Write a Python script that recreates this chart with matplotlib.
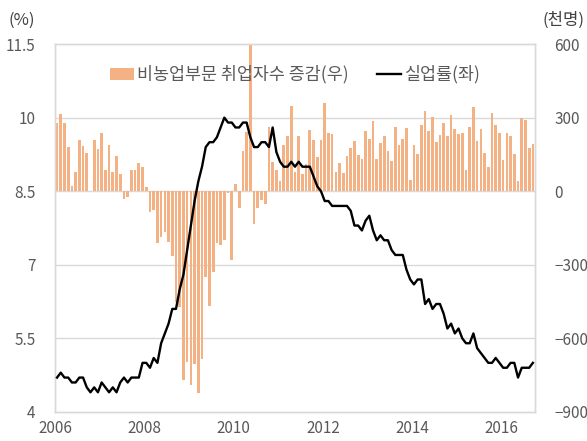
import numpy as np
import matplotlib
matplotlib.use("Agg")
import matplotlib.pyplot as plt
from matplotlib.lines import Line2D
from matplotlib.patches import Patch

plt.rcParams['font.family'] = ['Noto Sans CJK KR', 'DejaVu Sans']

# monthly data, Jan 2006 - Sep 2016
unemp = [
    4.7, 4.8, 4.7, 4.7, 4.6, 4.6, 4.7, 4.7, 4.5, 4.4, 4.5, 4.4,   # 2006
    4.6, 4.5, 4.4, 4.5, 4.4, 4.6, 4.7, 4.6, 4.7, 4.7, 4.7, 5.0,   # 2007
    5.0, 4.9, 5.1, 5.0, 5.4, 5.6, 5.8, 6.1, 6.1, 6.5, 6.8, 7.3,   # 2008
    7.8, 8.3, 8.7, 9.0, 9.4, 9.5, 9.5, 9.6, 9.8, 10.0, 9.9, 9.9,  # 2009
    9.8, 9.8, 9.9, 9.9, 9.6, 9.4, 9.4, 9.5, 9.5, 9.4, 9.8, 9.3,   # 2010
    9.1, 9.0, 9.0, 9.1, 9.0, 9.1, 9.0, 9.0, 9.0, 8.8, 8.6, 8.5,   # 2011
    8.3, 8.3, 8.2, 8.2, 8.2, 8.2, 8.2, 8.1, 7.8, 7.8, 7.7, 7.9,   # 2012
    8.0, 7.7, 7.5, 7.6, 7.5, 7.5, 7.3, 7.2, 7.2, 7.2, 6.9, 6.7,   # 2013
    6.6, 6.7, 6.7, 6.2, 6.3, 6.1, 6.2, 6.2, 6.0, 5.7, 5.8, 5.6,   # 2014
    5.7, 5.5, 5.4, 5.4, 5.6, 5.3, 5.2, 5.1, 5.0, 5.0, 5.1, 5.0,   # 2015
    4.9, 4.9, 5.0, 5.0, 4.7, 4.9, 4.9, 4.9, 5.0,                  # 2016
]

payroll = [
    277, 315, 280, 182, 23, 77, 207, 184, 157, 2, 210, 171,          # 2006
    238, 88, 188, 78, 144, 71, -30, -25, 85, 86, 114, 98,            # 2007
    17, -84, -78, -210, -185, -165, -209, -266, -452, -473, -769, -695,  # 2008
    -791, -703, -823, -686, -351, -470, -329, -212, -219, -200, -7, -279,  # 2009
    28, -69, 163, 243, 600, -133, -70, -34, -52, 262, 119, 87,       # 2010
    43, 189, 225, 346, 77, 225, 69, 110, 248, 209, 141, 209,         # 2011
    358, 237, 233, 78, 115, 76, 143, 177, 203, 146, 132, 244,        # 2012
    211, 286, 130, 197, 226, 162, 122, 261, 190, 212, 258, 47,       # 2013
    190, 151, 272, 329, 246, 304, 202, 230, 280, 227, 312, 255,      # 2014
    234, 238, 86, 262, 344, 206, 254, 157, 100, 321, 272, 239,       # 2015
    126, 237, 225, 153, 43, 297, 291, 176, 191,                      # 2016
]

years = ["2006", "2008", "2010", "2012", "2014", "2016"]
left_ticks = [4, 5.5, 7, 8.5, 10, 11.5]
right_ticks = [-900, -600, -300, 0, 300, 600]

BAR_COLOR = "#F4B183"
TXT = "#595959"
GRID = "#D9D9D9"

n = len(unemp)
x = np.arange(n) + 0.5

fig = plt.figure(figsize=(5.87, 4.41), dpi=100)
ax = fig.add_axes([0.094, 0.066, 0.817, 0.834])
axr = ax.twinx()

# bars on right axis, drawn below the line
axr.bar(x, payroll, width=0.72, color=BAR_COLOR, zorder=2)
axr.set_ylim(-900, 600)
axr.set_yticks(right_ticks)

ax.set_zorder(axr.get_zorder() + 1)
ax.patch.set_visible(False)
ax.plot(x, unemp, color="black", linewidth=1.7, zorder=5)
ax.set_ylim(4, 11.5)
ax.set_yticks(left_ticks)
ax.set_yticklabels(["4", "5.5", "7", "8.5", "10", "11.5"])
ax.set_xlim(0, n)
ax.set_xticks(np.arange(0, n, 24))
ax.set_xticklabels(years)

# gridlines on left axis scale (behind the bars)
for v in left_ticks[1:-1]:
    axr.axhline(-900 + (v - 4) / 7.5 * 1500, color=GRID, linewidth=1.0, zorder=1)

for a in (ax, axr):
    for s in a.spines.values():
        s.set_color(GRID)
        s.set_linewidth(1.0)
    a.tick_params(length=0, labelsize=11, labelcolor=TXT)
ax.tick_params(axis="y", pad=14)
axr.tick_params(axis="y", pad=14)
ax.tick_params(axis="x", pad=6)

fig.text(0.015, 0.955, "(%)", fontsize=12, color="#404040", ha="left", va="center")
fig.text(0.995, 0.955, "(천명)", fontsize=12, color="#404040", ha="right", va="center")

handles = [Patch(facecolor=BAR_COLOR, edgecolor="none"),
           Line2D([0], [0], color="black", linewidth=1.7)]
labels = ["비농업부문 취업자수 증감(우)", "실업률(좌)"]
leg = ax.legend(handles, labels, loc="upper center", bbox_to_anchor=(0.5, 0.985),
                ncol=2, frameon=False, fontsize=12.5, handlelength=1.4,
                handletextpad=0.2, columnspacing=1.6)
for t in leg.get_texts():
    t.set_color(TXT)

fig.savefig("out.png", dpi=100)
